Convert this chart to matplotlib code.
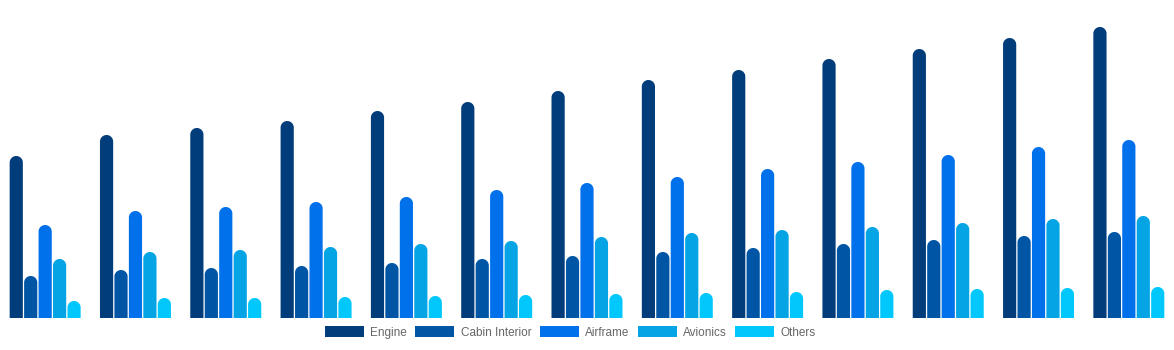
import matplotlib
matplotlib.use('Agg')
import matplotlib.pyplot as plt
import numpy as np
from matplotlib.patches import PathPatch, Patch
from matplotlib.path import Path

plt.rcParams['font.family'] = ['Liberation Sans', 'DejaVu Sans']

years = list(range(2020, 2033))
series = ['Engine', 'Cabin Interior', 'Airframe', 'Avionics', 'Others']
colors = ['#003d7a', '#0055a5', '#0070eb', '#05a4e4', '#00c8fc']

engine = [16.2, 18.3, 19.0, 19.7, 20.7, 21.6, 22.7, 23.8, 24.8, 25.9, 26.9, 28.0, 29.1]
cabin = [4.2, 4.8, 5.0, 5.2, 5.5, 5.9, 6.2, 6.6, 7.0, 7.4, 7.8, 8.2, 8.6]
airframe = [9.3, 10.7, 11.1, 11.6, 12.1, 12.8, 13.5, 14.1, 14.9, 15.6, 16.3, 17.1, 17.8]
avionics = [5.9, 6.6, 6.8, 7.1, 7.4, 7.7, 8.1, 8.5, 8.8, 9.1, 9.5, 9.9, 10.2]
others = [1.7, 2.0, 2.0, 2.1, 2.2, 2.3, 2.4, 2.5, 2.6, 2.8, 2.9, 3.0, 3.1]

values = [engine, cabin, airframe, avionics, others]

W, H = 1174, 350
fig = plt.figure(figsize=(W / 100, H / 100), dpi=100)
ax = fig.add_axes([0, 32 / H, 1, 300 / H])
ax.set_xlim(-0.5, len(years) - 0.5)
ax.set_ylim(0, 30)
ax.axis('off')

x = np.arange(len(years))
bw = 0.16
gap = 0.007
# data units per pixel on each axis, so the caps come out as half circles
ux = len(years) / W
uy = 30 / 300
theta = np.linspace(np.pi, 0, 40)


def rounded_bar(x0, width, height):
    rx = width / 2
    ry = rx / ux * uy
    cx, cy = x0 + rx, height - ry
    cap = np.column_stack([cx + rx * np.cos(theta), cy + ry * np.sin(theta)])
    verts = np.vstack([[x0, 0], [x0, cy], cap, [x0 + width, 0], [x0, 0]])
    codes = [Path.MOVETO] + [Path.LINETO] * (len(verts) - 2) + [Path.CLOSEPOLY]
    return Path(verts, codes)


for i, (vals, c) in enumerate(zip(values, colors)):
    bars = ax.bar(x + (i - 2) * bw, vals, width=bw, color=c)
    for rect in bars.patches:
        bx, bwid, bh = rect.get_x(), rect.get_width(), rect.get_height()
        rect.remove()
        ax.add_patch(PathPatch(rounded_bar(bx + gap, bwid - 2 * gap, bh),
                               facecolor=c, edgecolor='none'))

handles = [Patch(facecolor=c, edgecolor='none') for c in colors]
fig.legend(handles, series, loc='center', bbox_to_anchor=(570.5 / W, 17.5 / H),
           ncol=5, frameon=False, fontsize=8.5, labelcolor='#666666',
           handlelength=3.3, handleheight=1.0, handletextpad=0.55,
           columnspacing=0.7, borderpad=0)

fig.savefig('out.png', dpi=100)
